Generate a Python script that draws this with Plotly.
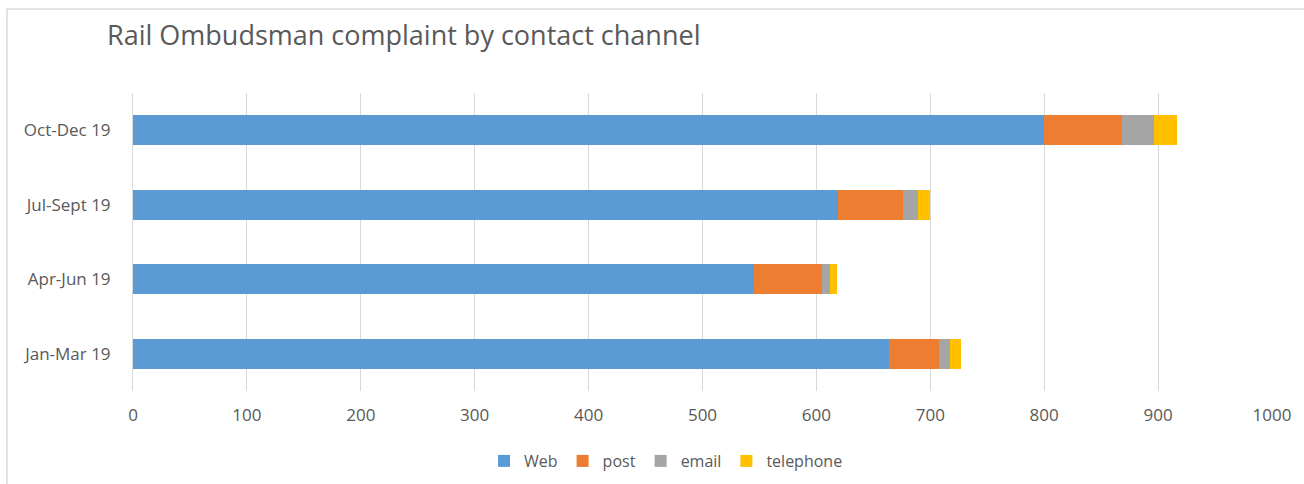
import plotly.graph_objects as go

quarters = ["Jan-Mar 19", "Apr-Jun 19", "Jul-Sept 19", "Oct-Dec 19"]
web = [664, 545, 619, 800]
post = [44, 60, 57, 68]
email = [9, 7, 13, 28]
telephone = [10, 6, 11, 21]

series = [
    ("Web", web, "#5B9BD5"),
    ("post", post, "#ED7D31"),
    ("email", email, "#A5A5A5"),
    ("telephone", telephone, "#FFC000"),
]

fig = go.Figure()
for name, vals, color in series:
    fig.add_trace(go.Bar(
        y=quarters, x=vals, name=name, orientation="h",
        marker=dict(color=color, line=dict(width=0)),
    ))

W, H = 1304, 484
L, R, T, B = 133, 32, 93, 93
pw = W - L - R
ph = H - T - B

def px_x(px):
    return (px - L) / pw

def px_y(py):
    return (H - B - py) / ph

fig.update_layout(
    width=W, height=H,
    barmode="stack",
    bargap=0.6,
    paper_bgcolor="white",
    plot_bgcolor="white",
    margin=dict(l=L, r=R, t=T, b=B, pad=0, autoexpand=False),
    font=dict(family="Open Sans, sans-serif", color="#595959", size=16),
    title=dict(
        text="Rail Ombudsman complaint by contact channel",
        x=107 / W, xanchor="left", xref="container",
        y=1 - 36 / H, yanchor="middle", yref="container",
        font=dict(size=27, color="#595959", family="Open Sans, sans-serif"),
    ),
    xaxis=dict(
        range=[0, 1000], dtick=100, tick0=0,
        showgrid=True, gridcolor="#d9d9d9", gridwidth=1,
        zeroline=False, showline=False, ticks="",
        ticklabelstandoff=12,
        tickfont=dict(size=17, color="#595959"),
    ),
    yaxis=dict(
        showgrid=False, zeroline=False,
        showline=True, linecolor="#d9d9d9", linewidth=1,
        ticks="", ticklabelstandoff=18,
        tickfont=dict(size=17, color="#595959"),
    ),
    legend=dict(
        orientation="h", x=0.468, xanchor="center",
        y=px_y(461), yanchor="middle",
        font=dict(size=16, color="#595959"),
        itemwidth=30, traceorder="normal",
    ),
    shapes=[
        dict(type="line", xref="paper", yref="paper",
             x0=px_x(7), x1=px_x(1310), y0=px_y(9), y1=px_y(9),
             line=dict(color="#d9d9d9", width=1.5)),
        dict(type="line", xref="paper", yref="paper",
             x0=px_x(7), x1=px_x(7), y0=px_y(9), y1=px_y(490),
             line=dict(color="#d9d9d9", width=1.5)),
    ],
)

fig.write_html("out.html")
